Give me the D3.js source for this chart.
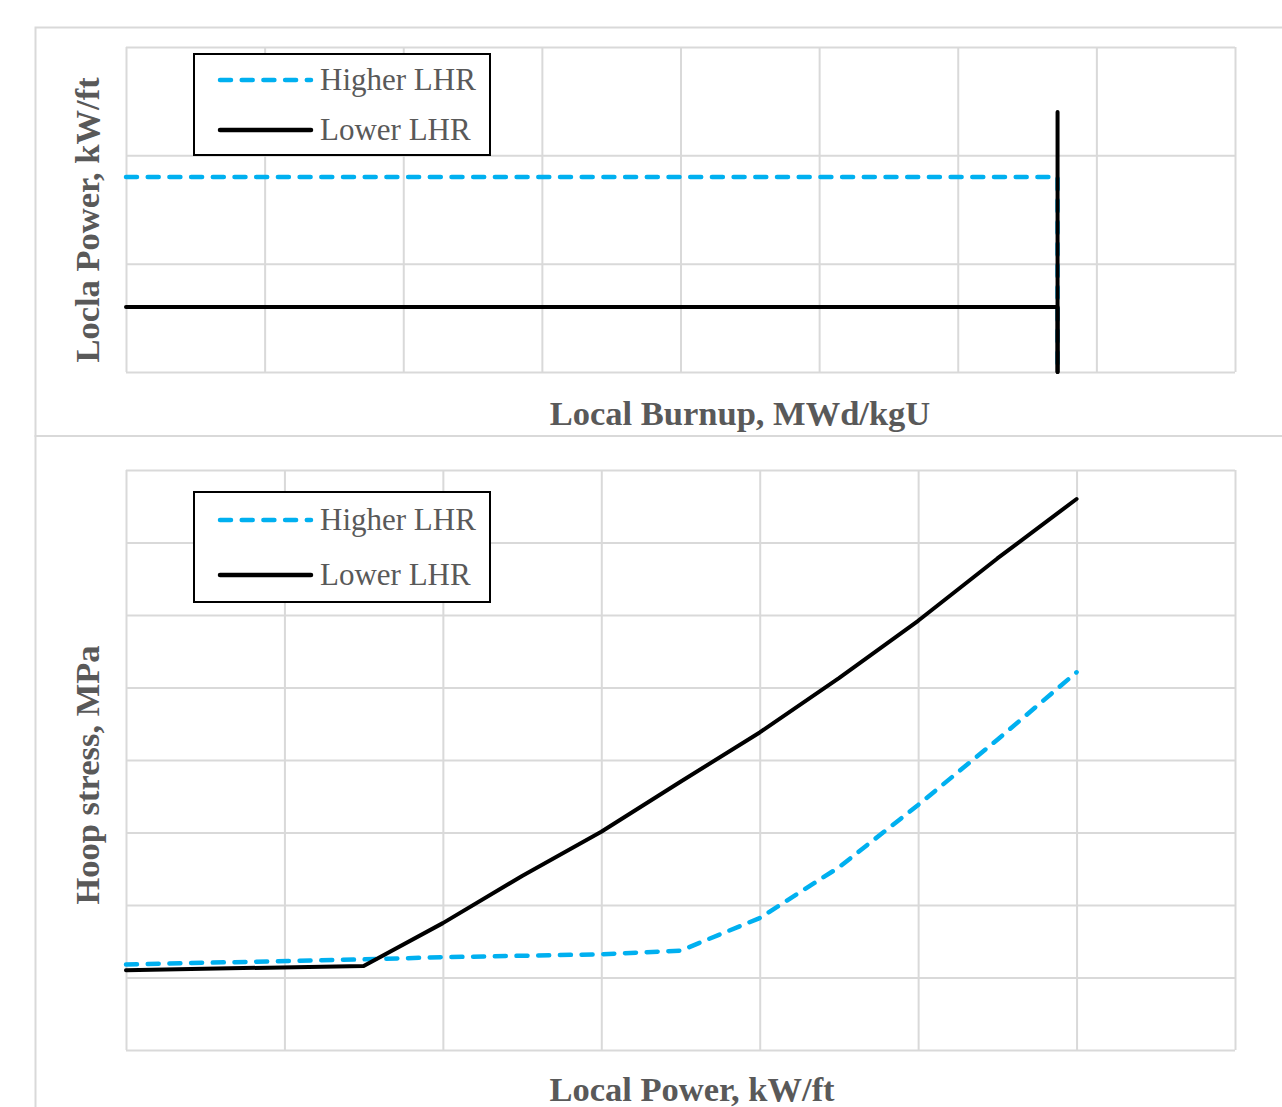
<!DOCTYPE html>
<html>
<head>
<meta charset="utf-8">
<script src="https://cdn.jsdelivr.net/npm/d3@7"></script>
<style>
  html, body { margin: 0; padding: 0; background: #fff; overflow: hidden; }
  svg { display: block; }
</style>
</head>
<body>
<svg id="chart" width="1282" height="1107"></svg>
<script>
// ---------- DATA ----------
// Top panel: local power history vs burnup
const burnupTicks = [0, 10, 20, 30, 40, 50, 60, 70, 80];
const topPowerTicks = [0, 5, 10, 15];
const burnupPts = [0, 67.2, 67.2];
const higherPowerTop = [9, 9, 0];
const lowerPowerTop = [3, 3, 0];
const endBurnupX = [67.2, 67.2];
const endBurnupY = [0, 12];

// Bottom panel: hoop stress vs local power
const powerTicks = [0, 2, 4, 6, 8, 10, 12, 14];
const stressTicks = [0, 50, 100, 150, 200, 250, 300, 350, 400];
const localPower = [0, 3, 4, 5, 6, 7, 8, 9, 10, 11, 12];
const higherStress = [59, 62.5, 64, 65, 66, 68.5, 91, 126, 169, 214, 260.5];
const lowerStress = [55, 58, 87.5, 120, 150.5, 185, 219, 256.5, 296, 339, 380];

const seriesNames = ["Higher LHR", "Lower LHR"];

// ---------- STYLE ----------
const gridColor = "#d9d9d9";
const textColor = "#595959";
const blue = "#00b0f0";
const black = "#000000";
const serif = "'Liberation Serif', 'Times New Roman', serif";
const dash = "11,10.7";

const svg = d3.select("#chart");

// chart-area borders
svg.append("rect").attr("x", 35.5).attr("y", 27.5).attr("width", 1300).attr("height", 408.5)
  .attr("fill", "none").attr("stroke", gridColor).attr("stroke-width", 2);
svg.append("rect").attr("x", 35.5).attr("y", 436).attr("width", 1300).attr("height", 720)
  .attr("fill", "none").attr("stroke", gridColor).attr("stroke-width", 2);

function panel(cfg) {
  const x = d3.scaleLinear().domain(cfg.xDomain).range([cfg.left, cfg.right]);
  const y = d3.scaleLinear().domain(cfg.yDomain).range([cfg.bottom, cfg.top]);
  const g = svg.append("g");

  // vertical gridlines via axis
  g.append("g").attr("transform", `translate(0,${cfg.bottom})`)
    .call(d3.axisBottom(x).tickValues(cfg.xTicks).tickSize(-(cfg.bottom - cfg.top)).tickFormat(""))
    .call(s => s.select(".domain").remove())
    .call(s => s.selectAll(".tick line").attr("stroke", gridColor).attr("stroke-width", 2));
  // horizontal gridlines via axis
  g.append("g").attr("transform", `translate(${cfg.left},0)`)
    .call(d3.axisLeft(y).tickValues(cfg.yTicks).tickSize(-(cfg.right - cfg.left)).tickFormat(""))
    .call(s => s.select(".domain").remove())
    .call(s => s.selectAll(".tick line").attr("stroke", gridColor).attr("stroke-width", 2));

  const line = d3.line().x(d => x(d[0])).y(d => y(d[1]));
  cfg.series.forEach(s => {
    g.append("path")
      .attr("d", line(d3.zip(s.x, s.y)))
      .attr("fill", "none")
      .attr("stroke", s.color)
      .attr("stroke-width", s.width)
      .attr("stroke-linecap", "round")
      .attr("stroke-linejoin", "round")
      .attr("stroke-dasharray", s.dash || null);
  });

  // legend
  const L = cfg.legend;
  g.append("rect").attr("x", L.x).attr("y", L.y).attr("width", L.w).attr("height", L.h)
    .attr("fill", "#fff").attr("stroke", "#000").attr("stroke-width", 2);
  const items = [
    { name: seriesNames[0], color: blue, dash: dash },
    { name: seriesNames[1], color: black, dash: null }
  ];
  items.forEach((it, i) => {
    const yy = L.rowY[i];
    g.append("line").attr("x1", L.x + 26).attr("x2", L.x + 117).attr("y1", yy).attr("y2", yy)
      .attr("stroke", it.color).attr("stroke-width", 4.5).attr("stroke-linecap", "round")
      .attr("stroke-dasharray", it.dash);
    g.append("text").attr("x", L.x + 126).attr("y", yy + 10)
      .attr("font-family", serif).attr("font-size", 31).attr("fill", textColor)
      .text(it.name);
  });

  // axis titles
  g.append("text")
    .attr("transform", `translate(${cfg.yTitleX},${cfg.yTitleY}) rotate(-90)`)
    .attr("text-anchor", "middle")
    .attr("font-family", serif).attr("font-weight", "bold").attr("font-size", 34.5)
    .attr("fill", textColor).text(cfg.yTitle);
  g.append("text")
    .attr("x", cfg.xTitleX).attr("y", cfg.xTitleY)
    .attr("text-anchor", "middle")
    .attr("font-family", serif).attr("font-weight", "bold").attr("font-size", 34.5)
    .attr("fill", textColor).text(cfg.xTitle);
}

panel({
  left: 126, right: 1235, top: 47, bottom: 372,
  xDomain: [0, 80], yDomain: [0, 15],
  xTicks: burnupTicks, yTicks: topPowerTicks,
  series: [
    { x: burnupPts, y: higherPowerTop, color: blue, width: 4.5, dash: dash },
    { x: burnupPts, y: lowerPowerTop, color: black, width: 4 },
    { x: endBurnupX, y: endBurnupY, color: black, width: 4 }
  ],
  legend: { x: 194, y: 54, w: 296, h: 101, rowY: [80, 130] },
  yTitle: "Locla Power, kW/ft", yTitleX: 99, yTitleY: 220,
  xTitle: "Local Burnup, MWd/kgU", xTitleX: 740, xTitleY: 425
});

panel({
  left: 126, right: 1235, top: 470, bottom: 1050,
  xDomain: [0, 14], yDomain: [0, 400],
  xTicks: powerTicks, yTicks: stressTicks,
  series: [
    { x: localPower, y: higherStress, color: blue, width: 4.5, dash: dash },
    { x: localPower, y: lowerStress, color: black, width: 4 }
  ],
  legend: { x: 194, y: 492, w: 296, h: 110, rowY: [520, 575] },
  yTitle: "Hoop stress, MPa", yTitleX: 99, yTitleY: 775,
  xTitle: "Local Power, kW/ft", xTitleX: 692, xTitleY: 1101
});
</script>
</body>
</html>
